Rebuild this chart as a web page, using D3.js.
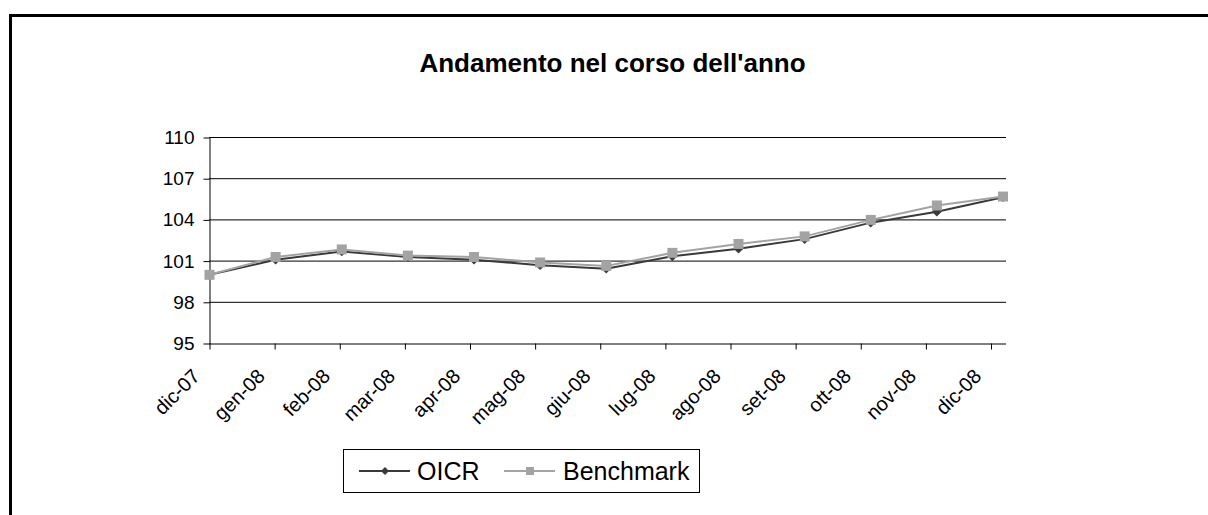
<!DOCTYPE html>
<html>
<head>
<meta charset="utf-8">
<script src="https://cdn.jsdelivr.net/npm/d3@7"></script>
<style>
  html, body { margin: 0; padding: 0; background: #fff; }
  svg { display: block; font-family: "Liberation Sans", Arial, sans-serif; }
</style>
</head>
<body>
<svg id="chart" width="1208" height="515"></svg>
<script>
// Monthly index values, December 2007 = 100
const categories = ["dic-07", "gen-08", "feb-08", "mar-08", "apr-08", "mag-08", "giu-08",
                    "lug-08", "ago-08", "set-08", "ott-08", "nov-08", "dic-08"];
const oicr      = [100.0, 101.1, 101.7, 101.3, 101.1, 100.7, 100.45, 101.35, 101.9, 102.6, 103.8, 104.6, 105.65];
const benchmark = [100.0, 101.3, 101.85, 101.4, 101.3, 100.9, 100.65, 101.6, 102.25, 102.8, 104.0, 105.05, 105.7];
const yTicks = [95, 98, 101, 104, 107, 110];
const titleText = "Andamento nel corso dell'anno";

const svg = d3.select("#chart");

// Outer frame (top and left edges)
svg.append("path")
  .attr("d", "M10.5,515 V15.5 H1208")
  .attr("fill", "none").attr("stroke", "#000").attr("stroke-width", 3);

// Title
svg.append("text")
  .attr("x", 612.5).attr("y", 72)
  .attr("text-anchor", "middle")
  .attr("font-size", 26).attr("font-weight", "bold")
  .text(titleText);

const plotLeft = 209, plotRight = 1006;

// Scales: points are placed across the plot, category ticks a bit tighter
const x = d3.scalePoint().domain(categories).range([209.5, 1003]);
const xAxisScale = d3.scalePoint().domain(categories).range([209.5, 991]);
const y = d3.scaleLinear().domain([95, 110]).range([343.5, 137.5]);

// Horizontal gridlines
svg.append("g").selectAll("line").data(yTicks.slice(1)).join("line")
  .attr("x1", plotLeft).attr("x2", plotRight)
  .attr("y1", d => y(d)).attr("y2", d => y(d))
  .attr("stroke", "#000").attr("stroke-width", 1);

// Y axis
const yAxis = svg.append("g")
  .attr("transform", `translate(${plotLeft + 0.5},0)`)
  .call(d3.axisLeft(y).tickValues(yTicks).tickSize(6).tickSizeOuter(0).tickPadding(9));
yAxis.select(".domain").attr("stroke", "#000");
yAxis.selectAll("line").attr("stroke", "#000");
yAxis.selectAll("text").attr("font-size", 19).attr("fill", "#000")
  .attr("font-family", "Liberation Sans, Arial, sans-serif");

// X axis
const xAxis = svg.append("g")
  .attr("transform", `translate(0,${y(95)})`)
  .call(d3.axisBottom(xAxisScale).tickSize(6).tickSizeOuter(0));
xAxis.select(".domain").attr("d", `M${plotLeft},0.5H${plotRight}`).attr("stroke", "#000");
xAxis.selectAll("line").attr("stroke", "#000");
xAxis.selectAll("text")
  .attr("font-size", 20).attr("fill", "#000")
  .attr("font-family", "Liberation Sans, Arial, sans-serif")
  .attr("y", 0).attr("dy", 0)
  .attr("text-anchor", "end")
  .attr("transform", "translate(-9,34) rotate(-45)");

// Series
const line = d3.line().x((d, i) => x(categories[i])).y(d => y(d));
const diamond = d3.symbol().type(d3.symbolDiamond2).size(60);

const series = [
  { name: "OICR", values: oicr, color: "#3a3a3a", marker: "diamond" },
  { name: "Benchmark", values: benchmark, color: "#a3a3a3", marker: "square" }
];

series.forEach(s => {
  const g = svg.append("g");
  g.append("path").datum(s.values)
    .attr("d", line).attr("fill", "none")
    .attr("stroke", s.color).attr("stroke-width", 2);
  if (s.marker === "diamond") {
    g.selectAll("path.m").data(s.values).join("path").attr("class", "m")
      .attr("d", diamond)
      .attr("transform", (d, i) => `translate(${x(categories[i])},${y(d)})`)
      .attr("fill", s.color);
  } else {
    g.selectAll("rect").data(s.values).join("rect")
      .attr("x", (d, i) => x(categories[i]) - 5)
      .attr("y", d => y(d) - 5)
      .attr("width", 10).attr("height", 10)
      .attr("fill", s.color);
  }
});

// Legend
const legend = svg.append("g");
legend.append("rect")
  .attr("x", 343.5).attr("y", 449.5).attr("width", 356).attr("height", 43)
  .attr("fill", "#fff").attr("stroke", "#000");
const legendItems = [
  { s: series[0], x0: 359, tx: 417 },
  { s: series[1], x0: 504, tx: 563 }
];
legendItems.forEach(it => {
  const cy = 471;
  legend.append("line")
    .attr("x1", it.x0).attr("x2", it.x0 + 51).attr("y1", cy).attr("y2", cy)
    .attr("stroke", it.s.color).attr("stroke-width", 2);
  if (it.s.marker === "diamond") {
    legend.append("path").attr("d", d3.symbol().type(d3.symbolDiamond2).size(40))
      .attr("transform", `translate(${it.x0 + 26},${cy})`).attr("fill", it.s.color);
  } else {
    legend.append("rect").attr("x", it.x0 + 22).attr("y", cy - 4)
      .attr("width", 8).attr("height", 8).attr("fill", it.s.color);
  }
  legend.append("text")
    .attr("x", it.tx).attr("y", 480)
    .attr("font-size", 25).attr("fill", "#000")
    .text(it.s.name);
});
</script>
</body>
</html>
